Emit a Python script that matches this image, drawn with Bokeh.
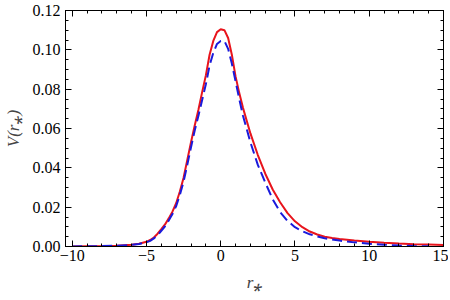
from bokeh.plotting import figure
from bokeh.models import (Range1d, SingleIntervalTicker, NumeralTickFormatter,
                          CustomJSTickFormatter, LinearAxis)
from bokeh.embed import file_html
from bokeh.resources import INLINE

# r_* grid and potentials
x_red = [-10, -9, -8, -7, -6, -5.5, -5, -4.75, -4.5, -4.25, -4, -3.75, -3.5, -3.25, -3,
         -2.75, -2.5, -2.25, -2, -1.75, -1.5, -1.25, -1, -0.75, -0.5, -0.25, 0, 0.25,
         0.5, 0.75, 1, 1.25, 1.5, 2, 2.5, 3, 3.5, 4, 4.5, 5, 5.5, 6, 6.5, 7, 7.5, 8,
         9, 10, 11, 12, 13, 14, 15]
v_red = [0.0000, 0.0001, 0.0002, 0.0004, 0.0009, 0.0014, 0.0024, 0.0033, 0.0046, 0.0065,
         0.0088, 0.0112, 0.0143, 0.0177, 0.0220, 0.0280, 0.0350, 0.0440, 0.0530, 0.0615,
         0.0695, 0.0785, 0.0870, 0.0975, 0.1045, 0.1090, 0.1105, 0.1100, 0.1060, 0.0975,
         0.0865, 0.0780, 0.0705, 0.0575, 0.0465, 0.0370, 0.0290, 0.0225, 0.0170, 0.0128,
         0.0098, 0.0076, 0.0061, 0.0050, 0.0043, 0.0038, 0.0030, 0.0024, 0.0019, 0.0015,
         0.0012, 0.0010, 0.0008]

x_blue = [-10, -9, -8, -7, -6, -5.5, -5, -4.75, -4.5, -4.25, -4, -3.75, -3.5, -3.25, -3,
          -2.75, -2.5, -2.25, -2, -1.75, -1.5, -1.25, -1, -0.75, -0.5, -0.25, 0, 0.25,
          0.5, 0.75, 1, 1.25, 1.5, 2, 2.5, 3, 3.5, 4, 4.5, 5, 5.5, 6, 6.5, 7, 7.5, 8,
          9, 10, 11, 12, 13, 14]
v_blue = [0.0000, 0.0001, 0.0002, 0.0004, 0.0008, 0.0013, 0.0021, 0.0029, 0.0041, 0.0058,
          0.0080, 0.0103, 0.0132, 0.0165, 0.0205, 0.0262, 0.0330, 0.0415, 0.0505, 0.0590,
          0.0665, 0.0745, 0.0825, 0.0920, 0.0985, 0.1030, 0.1045, 0.1045, 0.1005, 0.0930,
          0.0840, 0.0750, 0.0665, 0.0530, 0.0415, 0.0325, 0.0240, 0.0175, 0.0130, 0.0098,
          0.0078, 0.0062, 0.0051, 0.0042, 0.0036, 0.0030, 0.0021, 0.0014, 0.0009, 0.0005,
          0.0002, 0.0001]

x_ticks_interval = 5
y_ticks_interval = 0.02

FONT = "Liberation Serif"

p = figure(width=448, height=298, output_backend="svg", toolbar_location=None,
           x_range=Range1d(-10.45, 15), y_range=Range1d(0, 0.12),
           min_border_left=64, min_border_right=5, min_border_top=10, min_border_bottom=52)
p.grid.visible = False
p.outline_line_color = "black"
p.outline_line_width = 1

p.line(x_red, v_red, line_color="#e8141c", line_width=2)
p.line(x_blue, v_blue, line_color="#1a1adc", line_width=2, line_dash="10 5")

def style(ax, labels=True):
    ax.major_tick_in = 6
    ax.major_tick_out = 0
    ax.minor_tick_in = 3
    ax.minor_tick_out = 0
    ax.axis_line_color = "black"
    ax.major_tick_line_color = "black"
    ax.minor_tick_line_color = "black"
    ax.major_label_text_font = FONT
    ax.major_label_text_font_size = "16px"
    ax.major_label_text_color = "black"
    if not labels:
        ax.major_label_text_alpha = 0

xfmt = CustomJSTickFormatter(code="return tick < 0 ? '\u2212' + Math.abs(tick) : tick.toString();")

xa = p.xaxis[0]
xa.ticker = SingleIntervalTicker(interval=x_ticks_interval, num_minor_ticks=5)
xa.formatter = xfmt
style(xa)
xa.major_label_standoff = 3
xa.axis_label = "r\u204e"
xa.axis_label_text_font = FONT
xa.axis_label_text_font_style = "italic"
xa.axis_label_text_font_size = "17px"
xa.axis_label_standoff = 9

ya = p.yaxis[0]
ya.ticker = SingleIntervalTicker(interval=y_ticks_interval, num_minor_ticks=4)
ya.formatter = NumeralTickFormatter(format="0.00")
style(ya)
ya.major_label_standoff = 5
ya.axis_label = "V(r\u204e)"
ya.axis_label_text_font = FONT
ya.axis_label_text_font_style = "italic"
ya.axis_label_text_font_size = "17px"
ya.axis_label_standoff = 7

top = LinearAxis(ticker=SingleIntervalTicker(interval=x_ticks_interval, num_minor_ticks=5))
style(top, labels=False)
top.major_label_text_font_size = "0px"
top.major_label_standoff = 0
p.add_layout(top, "above")

right = LinearAxis(ticker=SingleIntervalTicker(interval=y_ticks_interval, num_minor_ticks=4))
style(right, labels=False)
right.major_label_text_font_size = "0px"
right.major_label_standoff = 0
p.add_layout(right, "right")

open("out.html", "w").write(file_html(p, INLINE))
